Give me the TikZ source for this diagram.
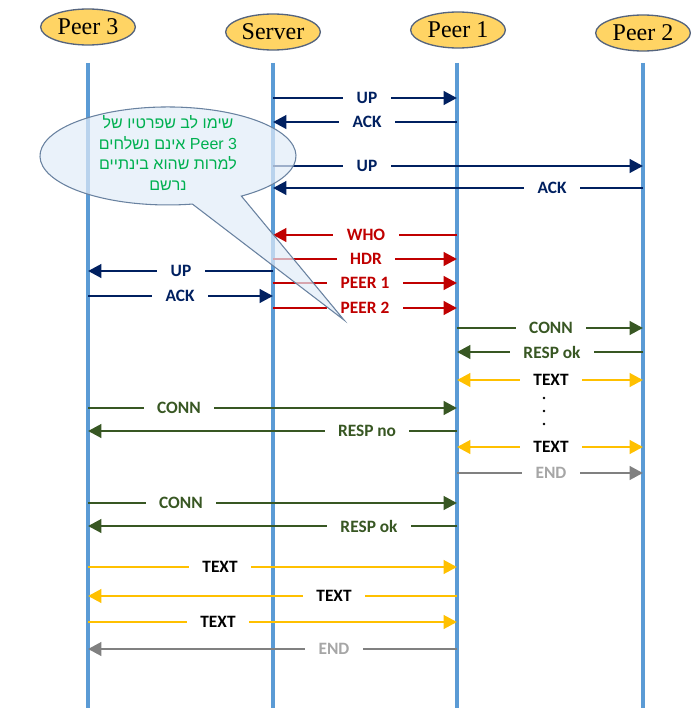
\documentclass[tikz,border=0pt]{standalone}
\usepackage{fontspec}
\setmainfont{Liberation Serif}
\newfontfamily\lblfont{Carlito}
\newfontfamily\hebfont[Script=Hebrew]{Liberation Sans}
\TeXXeTstate=1
\usetikzlibrary{arrows.meta,shapes.geometric}
\definecolor{lifeblue}{RGB}{91,155,213}
\definecolor{navy}{RGB}{0,32,96}
\definecolor{msgred}{RGB}{192,0,0}
\definecolor{msggreen}{RGB}{56,87,35}
\definecolor{msgyellow}{RGB}{255,192,0}
\definecolor{msggray}{RGB}{128,128,128}
\definecolor{lblgray}{RGB}{166,166,166}
\definecolor{peergold}{RGB}{255,212,100}
\definecolor{peeredge}{RGB}{85,100,125}
\definecolor{notegreen}{RGB}{0,176,80}
\definecolor{notefill}{RGB}{225,236,248}
\definecolor{noteedge}{RGB}{105,130,160}
\tikzset{every picture/.style={line width=0.75pt}}
\tikzset{
  peer/.style={ellipse,draw=peeredge,line width=1pt,fill=peergold,minimum width=71pt,minimum height=27pt,inner sep=0pt,font=\fontsize{18}{20}\selectfont},
  life/.style={draw=lifeblue,line width=3pt},
  msg/.style={line width=2.2pt,-{Triangle[length=10pt,width=10pt]}},
  twoway/.style={line width=2.2pt,{Triangle[length=10pt,width=10pt]}-{Triangle[length=10pt,width=10pt]}},
  lbl/.style={fill=white,inner xsep=10pt,inner ysep=1pt,font=\lblfont\bfseries\fontsize{13}{14}\selectfont},
  note/.style={draw=noteedge,fill=notefill,fill opacity=0.7,line width=0.8pt}
}

\begin{document}
\begin{tikzpicture}[x=0.75pt,y=0.75pt,yscale=-1,xscale=1]
\useasboundingbox (0,0) rectangle (691,724);
\node[peer] (p3) at (88,27) {Peer 3};
\node[peer] (srv) at (273,32) {Server};
\node[peer] (p1) at (458,30) {Peer 1};
\node[peer] (p2) at (643,33) {Peer 2};
\foreach \p/\x in {p3/88,srv/273,p1/457,p2/643} {
  \coordinate (\p t) at (\x,63);
  \coordinate (\p b) at (\x,708);
  \draw[life] (\p t) -- (\p b);
}

\draw[msg,navy] (srvt |- 0,98) -- (p1t |- 0,98);
\draw[msg,navy] (p1t |- 0,122) -- (srvt |- 0,122);
\draw[msg,navy] (srvt |- 0,166) -- (p2t |- 0,166);
\draw[msg,navy] (p2t |- 0,188) -- (srvt |- 0,188);
\draw[msg,msgred] (p1t |- 0,235) -- (srvt |- 0,235);
\draw[msg,msgred] (srvt |- 0,259) -- (p1t |- 0,259);
\draw[msg,navy] (srvt |- 0,271) -- (p3t |- 0,271);
\draw[msg,msgred] (srvt |- 0,283) -- (p1t |- 0,283);
\draw[msg,navy] (p3t |- 0,296) -- (srvt |- 0,296);
\draw[msg,msgred] (srvt |- 0,308) -- (p1t |- 0,308);
\draw[msg,msggreen] (p1t |- 0,328) -- (p2t |- 0,328);
\draw[msg,msggreen] (p2t |- 0,352) -- (p1t |- 0,352);
\draw[twoway,msgyellow] (p1t |- 0,380) -- (p2t |- 0,380);
\draw[msg,msggreen] (p3t |- 0,408) -- (p1t |- 0,408);
\draw[msg,msggreen] (p1t |- 0,431) -- (p3t |- 0,431);
\draw[twoway,msgyellow] (p1t |- 0,447) -- (p2t |- 0,447);
\draw[msg,msggray] (p1t |- 0,473) -- (p2t |- 0,473);
\draw[msg,msggreen] (p3t |- 0,503) -- (p1t |- 0,503);
\draw[msg,msggreen] (p1t |- 0,526) -- (p3t |- 0,526);
\draw[msg,msgyellow] (p3t |- 0,567) -- (p1t |- 0,567);
\draw[msg,msgyellow] (p1t |- 0,596) -- (p3t |- 0,596);
\draw[msg,msgyellow] (p3t |- 0,622) -- (p1t |- 0,622);
\draw[msg,msggray] (p1t |- 0,649) -- (p3t |- 0,649);

\node[lbl,text=navy] (up1) at (367,98) {UP};
\node[lbl,text=navy] (ack1) at (367,122) {ACK};
\node[lbl,text=navy] (up2) at (367,166) {UP};
\node[lbl,text=navy] (ack2) at (552,188) {ACK};
\node[lbl,text=msgred] (who) at (366,235) {WHO};
\node[lbl,text=msgred] (hdr) at (366,259) {HDR};
\node[lbl,text=navy] (up3) at (181,271) {UP};
\node[lbl,text=msgred] (peer1) at (365,283) {PEER 1};
\node[lbl,text=navy] (ack3) at (180,296) {ACK};
\node[lbl,text=msgred] (peer2) at (365,308) {PEER 2};
\node[lbl,text=msggreen] (conn1) at (551,328) {CONN};
\node[lbl,text=msggreen] (resp1) at (552,352) {RESP ok};
\node[lbl,text=black] (text1) at (551,380) {TEXT};
\node[lbl,text=msggreen] (conn2) at (179,408) {CONN};
\node[lbl,text=msggreen] (resp2) at (367,431) {RESP no};
\node[lbl,text=black] (text2) at (551,447) {TEXT};
\node[lbl,text=lblgray] (end1) at (551,473) {END};
\node[lbl,text=msggreen] (conn3) at (181,503) {CONN};
\node[lbl,text=msggreen] (resp3) at (369,526) {RESP ok};
\node[lbl,text=black] (text3) at (220,567) {TEXT};
\node[lbl,text=black] (text4) at (334,596) {TEXT};
\node[lbl,text=black] (text5) at (218,622) {TEXT};
\node[lbl,text=lblgray] (end2) at (334,649) {END};
\foreach \y in {398,411,424} \fill (544,\y) circle (1pt);

\draw[note] (241.4,196.1) arc[start angle=55,end angle=-281,x radius=128,y radius=49] -- (344,320) -- cycle;
\node[text=notegreen,align=center,font=\hebfont\fontsize{12}{15.5}\selectfont] (notetext) at (168,153) {\beginR שימו לב שפרטיו של\endR\\\beginR\beginL Peer 3\endL\ אינם נשלחים\endR\\\beginR למרות שהוא בינתיים\endR\\\beginR נרשם\endR};
\end{tikzpicture}
\end{document}
